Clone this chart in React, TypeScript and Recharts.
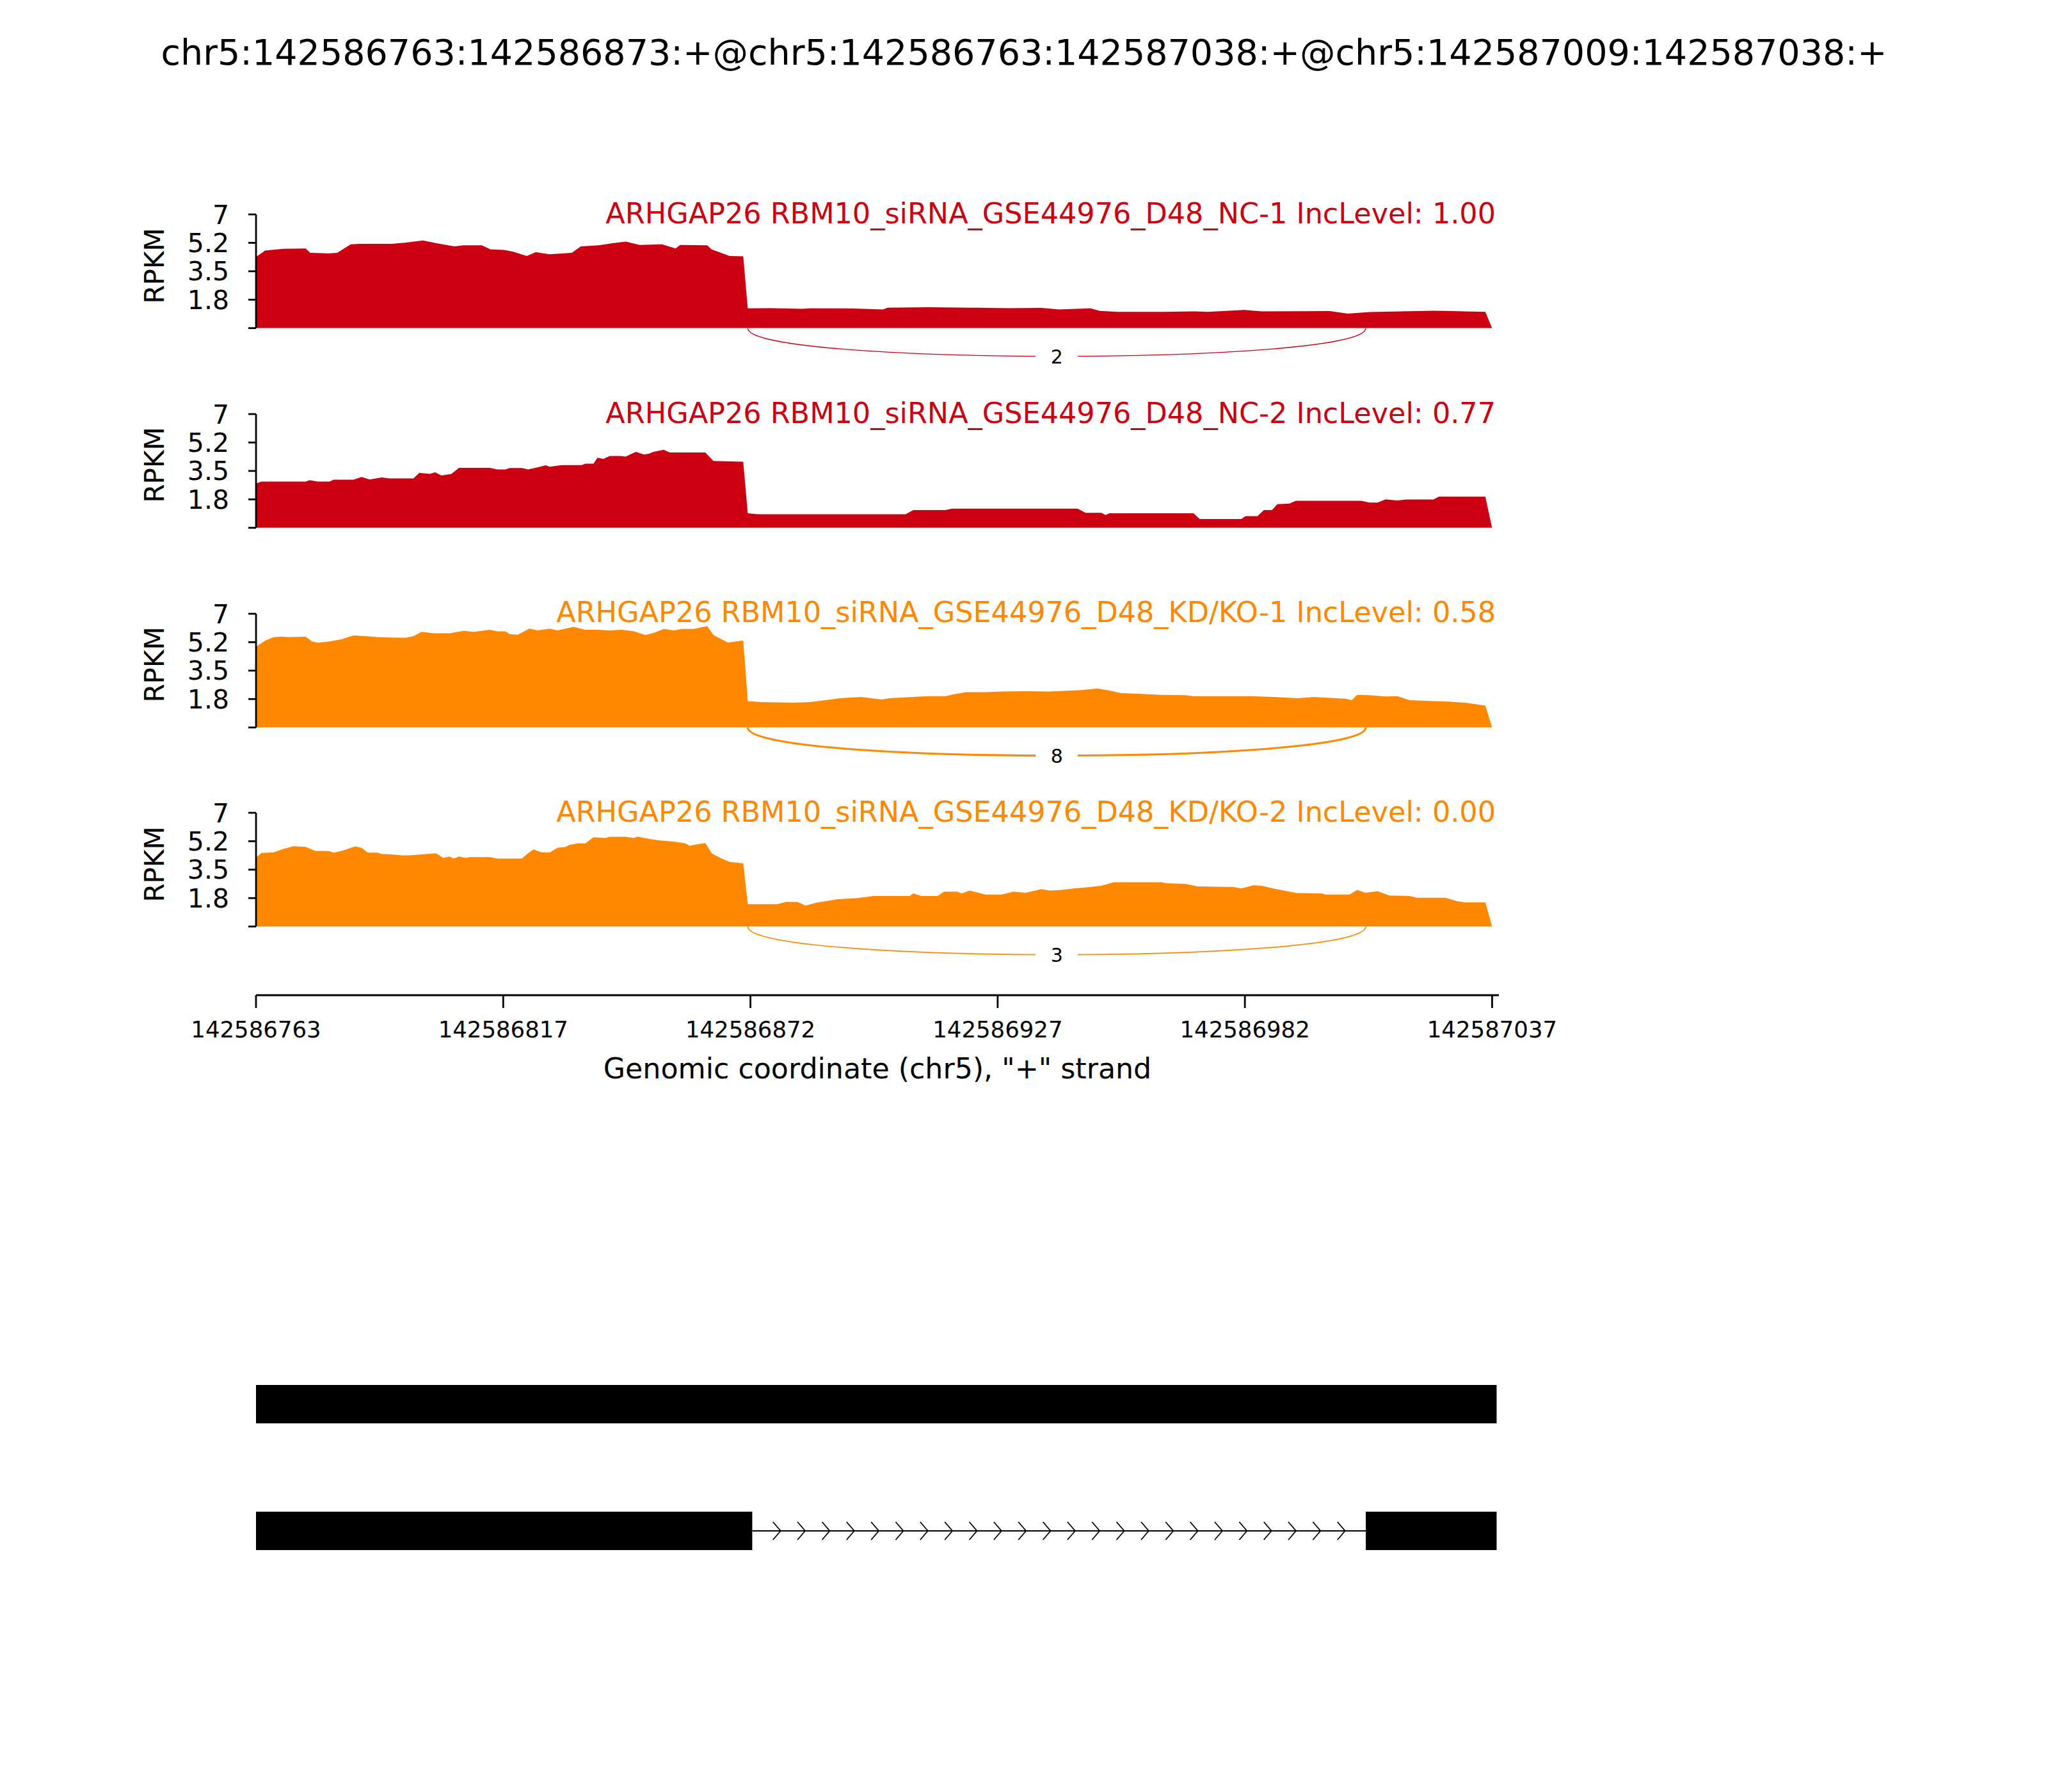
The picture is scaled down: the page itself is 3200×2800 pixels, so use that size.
import React from 'react'
import {
  AreaChart, Area, ComposedChart, Scatter, XAxis, YAxis, ReferenceArea, ReferenceLine,
} from 'recharts'

const FONT = '"DejaVu Sans", Verdana, sans-serif'

const TITLE = 'chr5:142586763:142586873:+@chr5:142586763:142587038:+@chr5:142587009:142587038:+'
const X_LABEL = 'Genomic coordinate (chr5), "+" strand'

// positions are offsets (bp) from 142586763
const X_DOMAIN: [number, number] = [0, 275.5]
const X_TICKS = [0, 54.8, 109.6, 164.4, 219.2, 274]
const X_TICK_LABELS = ['142586763', '142586817', '142586872', '142586927', '142586982', '142587037']

const Y_TICKS = [0, 1.75, 3.5, 5.25, 7]
const Y_TICK_LABELS = ['', '1.8', '3.5', '5.2', '7']

const SAMPLE_NAMES = [
  'ARHGAP26 RBM10_siRNA_GSE44976_D48_NC-1',
  'ARHGAP26 RBM10_siRNA_GSE44976_D48_NC-2',
  'ARHGAP26 RBM10_siRNA_GSE44976_D48_KD/KO-1',
  'ARHGAP26 RBM10_siRNA_GSE44976_D48_KD/KO-2',
]
const INC_LEVELS = ['1.00', '0.77', '0.58', '0.00']
const SAMPLE_COLORS = ['#CC0011', '#CC0011', '#FF8800', '#FF8800']

// junction: start / end offsets, read counts per sample (null = not drawn)
const JUNCTION = [109, 246]
const JUNCTION_COUNTS = [2, null, 8, 3]

// coverage in RPKM: [offset, value]
const NC1: [number, number][] = [
  [0, 4.38], [2, 4.77], [6, 4.88], [11, 4.9], [12, 4.64], [16, 4.6], [18, 4.64], [21, 5.16],
  [23, 5.19], [30, 5.19], [33, 5.26], [37, 5.39], [40, 5.23], [44, 5.03], [46, 5.1], [50, 5.1],
  [52, 4.84], [55, 4.81], [57, 4.71], [60, 4.44], [62, 4.68], [65, 4.55], [68, 4.6], [70, 4.64],
  [72, 5.03], [76, 5.1], [79, 5.23], [82, 5.33], [85, 5.12], [90, 5.16], [93, 4.9], [94, 5.12],
  [100, 5.1], [101, 4.84], [105, 4.44], [108, 4.42], [109, 1.22], [114, 1.23], [121, 1.19],
  [123, 1.22], [132, 1.21], [139, 1.15], [140, 1.26], [149, 1.29], [158, 1.26], [167, 1.23],
  [174, 1.25], [178, 1.15], [185, 1.22], [187, 1.06], [191, 1.0], [201, 1.0], [208, 1.03],
  [211, 1.0], [219, 1.12], [223, 1.03], [238, 1.05], [242, 0.89], [247, 0.99], [261, 1.07],
  [265, 1.05], [272.5, 1.0], [274, 0],
]

const NC2: [number, number][] = [
  [0, 2.73], [1.2, 2.84], [11, 2.84], [11.9, 2.93], [13.7, 2.84], [16.3, 2.84], [17.2, 2.96],
  [21.6, 2.96], [23.4, 3.13], [25.2, 2.97], [27.8, 3.1], [29.6, 3.04], [34.9, 3.04], [36.2, 3.39],
  [38.5, 3.32], [39.7, 3.42], [41.1, 3.22], [43.3, 3.32], [45, 3.69], [51.8, 3.69], [53.5, 3.59],
  [55.3, 3.59], [56.2, 3.68], [58.9, 3.68], [60.3, 3.59], [62.4, 3.72], [64.2, 3.85], [65.1, 3.76],
  [67.7, 3.86], [72.2, 3.86], [73, 3.95], [74.8, 3.95], [75.7, 4.31], [77, 4.24], [78.4, 4.42],
  [81, 4.42], [81.9, 4.38], [84.2, 4.68], [86, 4.51], [87.2, 4.57], [88.1, 4.68], [90.4, 4.8],
  [91.7, 4.64], [99.6, 4.64], [101.4, 4.11], [108, 4.07], [109, 0.89], [111.2, 0.83], [144, 0.83],
  [145.7, 1.09], [152.8, 1.09], [154.3, 1.18], [182.1, 1.18], [183.9, 0.92], [187.4, 0.92],
  [188.3, 0.79], [189.2, 0.89], [207.8, 0.89], [209.2, 0.54], [218.4, 0.54], [219.3, 0.72],
  [222, 0.72], [223.4, 1.09], [225.2, 1.09], [226.4, 1.46], [229.1, 1.49], [230.5, 1.66],
  [245, 1.66], [246.8, 1.55], [248.6, 1.55], [250.4, 1.75], [253, 1.68], [254.8, 1.74],
  [261, 1.74], [262.2, 1.92], [272.5, 1.92], [274, 0],
]

const KDKO1: [number, number][] = [
  [0, 4.97], [2.1, 5.36], [3.9, 5.56], [5.7, 5.59], [7.4, 5.56], [11, 5.59], [12.4, 5.3],
  [13.7, 5.22], [16.3, 5.3], [19, 5.43], [21.6, 5.67], [25.2, 5.6], [27, 5.56], [30.5, 5.53],
  [33.2, 5.52], [34.9, 5.62], [36.7, 5.89], [39.4, 5.8], [42.9, 5.8], [44.7, 5.89], [46.1, 5.95],
  [48.2, 5.89], [50, 5.95], [51.8, 6.02], [53.5, 5.92], [55.3, 5.92], [56.2, 5.75], [58, 5.71],
  [60.6, 6.08], [62.4, 5.98], [65.1, 6.08], [66.8, 5.98], [70.4, 6.19], [73, 6.02], [75.7, 6.02],
  [78.4, 5.98], [81, 6.02], [83.7, 5.93], [86.3, 5.69], [88.1, 5.82], [90.4, 6.06], [92.6, 5.98],
  [94.3, 6.06], [97, 6.06], [100, 6.24], [101.4, 5.69], [104.6, 5.23], [108, 5.36], [109, 1.62],
  [112, 1.56], [119.1, 1.52], [122.7, 1.56], [126.2, 1.68], [129.8, 1.81], [134.2, 1.88],
  [138.7, 1.72], [140.4, 1.8], [147.5, 1.91], [149.3, 1.93], [152.8, 1.93], [154.6, 2.04],
  [157.3, 2.17], [161.7, 2.17], [165.2, 2.21], [170.6, 2.23], [175.9, 2.21], [183, 2.3],
  [186.5, 2.4], [189.2, 2.27], [191.8, 2.12], [195.4, 2.08], [200.7, 2.01], [206, 1.99],
  [207.8, 1.93], [220.2, 1.93], [225.5, 1.88], [230.9, 1.8], [234.4, 1.88], [241.5, 1.77],
  [242.9, 1.68], [244.1, 2.01], [246.8, 1.99], [250.4, 1.91], [253, 1.93], [255.7, 1.68],
  [261, 1.62], [264.5, 1.59], [268.1, 1.52], [272.5, 1.35], [274, 0],
]

const KDKO2: [number, number][] = [
  [0, 4.24], [1.2, 4.53], [3.9, 4.57], [5.7, 4.74], [8.3, 4.94], [11, 4.9], [13.1, 4.66],
  [16.3, 4.64], [17.2, 4.55], [19, 4.66], [22, 4.93], [23.4, 4.84], [24.8, 4.55], [27, 4.55],
  [27.8, 4.47], [30.1, 4.44], [32.3, 4.38], [34, 4.38], [39.9, 4.51], [41.5, 4.22], [42.9, 4.31],
  [43.8, 4.18], [45, 4.31], [46.5, 4.22], [47.3, 4.27], [51.8, 4.27], [53.5, 4.18], [58.9, 4.18],
  [60.3, 4.51], [61.5, 4.74], [63.3, 4.57], [65.1, 4.56], [66.8, 4.84], [68.6, 4.9], [69.5, 5.03],
  [71.3, 5.12], [73, 5.12], [74.8, 5.49], [77.5, 5.45], [78.4, 5.52], [81.9, 5.52], [83.7, 5.45],
  [84.6, 5.53], [86.3, 5.43], [89, 5.32], [90.8, 5.27], [92.6, 5.23], [95.2, 5.12], [96.1, 4.97],
  [97.9, 5.07], [99.6, 5.14], [101, 4.51], [103.2, 4.18], [105, 3.98], [108, 3.89], [109, 1.38],
  [115.6, 1.38], [117.4, 1.51], [120, 1.51], [121.8, 1.29], [124.5, 1.48], [126.2, 1.55],
  [128.9, 1.68], [133.3, 1.75], [136.9, 1.88], [144.9, 1.88], [145.7, 2.04], [147.5, 1.88],
  [151.1, 1.88], [152.5, 2.14], [155.5, 2.14], [156.4, 2.04], [158.2, 2.21], [161.7, 1.97],
  [165.2, 1.97], [167.9, 2.14], [170.6, 2.08], [174.1, 2.3], [175.9, 2.21], [178.6, 2.25],
  [181.2, 2.34], [184.8, 2.43], [187.4, 2.51], [190.1, 2.73], [200.7, 2.73], [201.6, 2.67],
  [206, 2.63], [208.7, 2.47], [216.7, 2.43], [218.4, 2.34], [221.1, 2.54], [222.9, 2.51],
  [225.5, 2.34], [229.1, 2.14], [230.9, 2.06], [236.2, 2.04], [237.1, 1.97], [242.4, 1.97],
  [244.1, 2.25], [245.9, 2.08], [248.6, 2.17], [251.2, 1.91], [255.7, 1.88], [257.4, 1.77],
  [263.7, 1.77], [266.3, 1.55], [268.1, 1.48], [272.5, 1.48], [274, 0],
]

const COVERAGE = [NC1, NC2, KDKO1, KDKO2]

// gene model: exon spans per transcript (offsets)
const TRANSCRIPT_EXONS: [number, number][][] = [
  [[0, 275]],
  [[0, 110], [246, 275]],
]

// layout (pixels)
const CHART_W = 3200
const PLOT_LEFT = 400
const PLOT_RIGHT = 2342
const PANEL_TOPS = [335, 646.8, 958.6, 1270.4]
const PANEL_H = 177.7
const PAD_TOP = 40
const PAD_BOTTOM = 90
const ARC_DEPTH = 2.31 // RPKM units below zero (bezier control depth)
const AXIS_Y = 1555
const GENE_TOP = 2100
const ROW_CENTER = [306, 108] // gene-model rows, in a 0..400 px-like domain
const EXON_HALF = 30

function Txt({ x, baseline, size, anchor, color = '#000', children }: any) {
  const lh = size * 1.164
  const style: React.CSSProperties = {
    position: 'absolute',
    top: baseline - 0.928 * size,
    fontSize: size,
    lineHeight: `${lh}px`,
    color,
    whiteSpace: 'nowrap',
    fontFamily: FONT,
  }
  if (anchor === 'end') style.right = CHART_W - x
  else {
    style.left = x - 1500
    style.width = 3000
    style.textAlign = 'center'
  }
  return <div style={style}>{children}</div>
}

function RotLabel({ cx, cy, size, children }: any) {
  const lh = size * 1.164
  return (
    <div style={{
      position: 'absolute', left: cx - 200, top: cy - lh / 2, width: 400, height: lh,
      lineHeight: `${lh}px`, fontSize: size, textAlign: 'center', fontFamily: FONT,
      transform: 'rotate(-90deg)', transformOrigin: 'center center', whiteSpace: 'nowrap',
    }}>{children}</div>
  )
}

function makeArc(color: string, count: number) {
  return (props: any) => {
    const { x, y, width, height } = props
    const cx = x + width / 2
    const cy = y + height * 0.75
    const sw = 0.8 + count * 0.28
    return (
      <g>
        <path
          d={`M${x},${y} C${x},${y + height} ${x + width},${y + height} ${x + width},${y}`}
          fill="none" stroke={color} strokeWidth={sw}
        />
        <rect x={cx - 33} y={cy - 19} width={66} height={38} fill="#fff" />
        <text x={cx} y={cy + 11} textAnchor="middle" fontSize={30} fontFamily={FONT} fill="#000">
          {count}
        </text>
      </g>
    )
  }
}

function CoveragePanel({ idx }: { idx: number }) {
  const data = COVERAGE[idx].map(([x, v]) => ({ x, v }))
  const color = SAMPLE_COLORS[idx]
  const count = JUNCTION_COUNTS[idx]
  const top = PANEL_TOPS[idx]
  return (
    <div style={{ position: 'absolute', left: 0, top: top - PAD_TOP }}>
      <AreaChart
        width={CHART_W}
        height={PAD_TOP + PANEL_H + PAD_BOTTOM}
        data={data}
        margin={{ top: PAD_TOP, right: CHART_W - PLOT_RIGHT, bottom: PAD_BOTTOM, left: 0 }}
      >
        <XAxis dataKey="x" type="number" domain={X_DOMAIN} hide allowDataOverflow />
        <YAxis
          type="number"
          domain={[0, 7]}
          ticks={Y_TICKS}
          interval={0}
          width={PLOT_LEFT}
          tickSize={12}
          tickMargin={30}
          tickFormatter={(v: number) => Y_TICK_LABELS[Y_TICKS.indexOf(v)] ?? ''}
          tick={{ fontSize: 41, fill: '#000', fontFamily: FONT }}
          axisLine={{ stroke: '#000', strokeWidth: 2.8 }}
          tickLine={{ stroke: '#000', strokeWidth: 2.8 }}
          allowDataOverflow
        />
        <Area
          dataKey="v"
          type="linear"
          fill={color}
          fillOpacity={1}
          stroke="none"
          dot={false}
          activeDot={false}
          isAnimationActive={false}
        />
        {count != null && (
          <ReferenceArea
            x1={JUNCTION[0]}
            x2={JUNCTION[1]}
            y1={0}
            y2={-ARC_DEPTH}
            ifOverflow="visible"
            shape={makeArc(color, count)}
          />
        )}
      </AreaChart>
    </div>
  )
}

function Chevron(props: any) {
  const { cx, cy } = props
  return (
    <polyline
      points={`${cx - 6},${cy - 14} ${cx + 6},${cy} ${cx - 6},${cy + 14}`}
      fill="none" stroke="#000" strokeWidth={1.8}
    />
  )
}

function GeneModel() {
  const introns: { a: number; b: number; y: number }[] = []
  TRANSCRIPT_EXONS.forEach((exons, r) => {
    for (let i = 1; i < exons.length; i++) introns.push({ a: exons[i - 1][1], b: exons[i][0], y: ROW_CENTER[r] })
  })
  const chevrons: { x: number; y: number }[] = []
  introns.forEach(({ a, b, y }) => {
    for (let k = 1; k < 25; k++) chevrons.push({ x: a + ((b - a) * k) / 25, y })
  })
  return (
    <div style={{ position: 'absolute', left: 0, top: GENE_TOP }}>
      <ComposedChart
        width={CHART_W}
        height={400}
        data={chevrons}
        margin={{ top: 0, right: CHART_W - PLOT_RIGHT, bottom: 0, left: PLOT_LEFT }}
      >
        <XAxis dataKey="x" type="number" domain={X_DOMAIN} hide allowDataOverflow />
        <YAxis type="number" domain={[0, 400]} hide allowDataOverflow />
        {introns.map((it, i) => (
          <ReferenceLine
            key={`in${i}`}
            segment={[{ x: it.a, y: it.y }, { x: it.b, y: it.y }]}
            stroke="#000"
            strokeWidth={2.2}
            ifOverflow="visible"
          />
        ))}
        {TRANSCRIPT_EXONS.map((exons, r) =>
          exons.map(([a, b], i) => (
            <ReferenceArea
              key={`ex${r}-${i}`}
              x1={a}
              x2={b}
              y1={ROW_CENTER[r] - EXON_HALF}
              y2={ROW_CENTER[r] + EXON_HALF}
              fill="#000"
              fillOpacity={1}
              stroke="none"
              ifOverflow="visible"
            />
          )),
        )}
        <Scatter dataKey="y" shape={Chevron} isAnimationActive={false} />
      </ComposedChart>
    </div>
  )
}

function BottomAxis() {
  const data = X_TICKS.map((x) => ({ x }))
  return (
    <div style={{ position: 'absolute', left: 0, top: AXIS_Y - 10 }}>
      <AreaChart
        width={CHART_W}
        height={200}
        data={data}
        margin={{ top: 10, right: CHART_W - PLOT_RIGHT, bottom: 0, left: PLOT_LEFT }}
      >
        <XAxis
          dataKey="x"
          type="number"
          domain={X_DOMAIN}
          ticks={X_TICKS}
          interval={0}
          height={190}
          tickSize={20}
          tickMargin={21}
          tickFormatter={(v: number) => X_TICK_LABELS[X_TICKS.indexOf(v)] ?? ''}
          tick={{ fontSize: 35.5, fill: '#000', fontFamily: FONT }}
          axisLine={{ stroke: '#000', strokeWidth: 2.8 }}
          tickLine={{ stroke: '#000', strokeWidth: 2.8 }}
          allowDataOverflow
        />
        <YAxis type="number" domain={[0, 1]} hide />
      </AreaChart>
    </div>
  )
}

export default function App() {
  return (
    <div style={{
      position: 'absolute', left: 0, top: 0, width: CHART_W, height: 2800,
      background: '#fff', fontFamily: FONT, overflow: 'hidden',
    }}>
      <Txt x={1600} baseline={102} size={55.5}>{TITLE}</Txt>
      {PANEL_TOPS.map((top, i) => (
        <React.Fragment key={i}>
          <CoveragePanel idx={i} />
          <Txt x={2337} baseline={top + 14} size={44.5} anchor="end" color={SAMPLE_COLORS[i]}>
            {`${SAMPLE_NAMES[i]} IncLevel: ${INC_LEVELS[i]}`}
          </Txt>
          <RotLabel cx={242} cy={top + 80} size={42}>RPKM</RotLabel>
        </React.Fragment>
      ))}
      <BottomAxis />
      <Txt x={1371} baseline={1685} size={44.3}>{X_LABEL}</Txt>
      <GeneModel />
    </div>
  )
}
